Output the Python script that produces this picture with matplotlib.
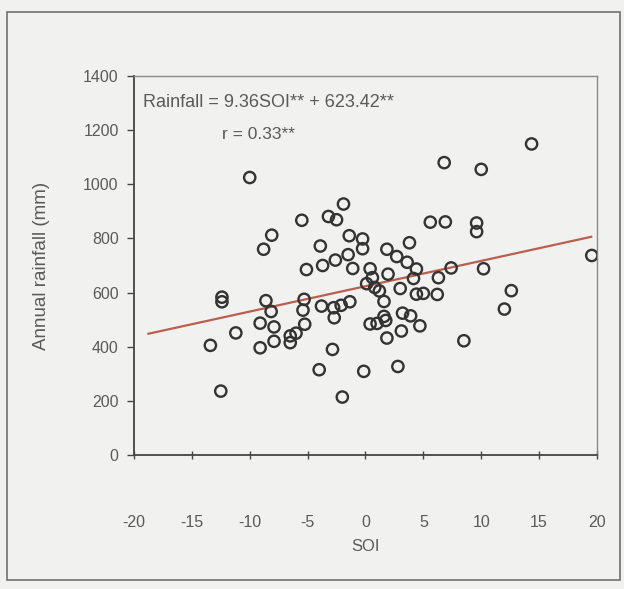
import matplotlib
matplotlib.use("Agg")
import matplotlib.pyplot as plt
from matplotlib.patches import Rectangle

plt.rcParams['font.family'] = ['Liberation Sans', 'DejaVu Sans']

# Southern Oscillation Index vs annual rainfall (mm)
soi = [-13.4, -12.5, -12.4, -12.4, -11.2, -10.0, -9.1, -9.1, -8.8, -8.6,
       -8.15, -8.1, -7.9, -7.9, -6.5, -6.5, -6.0, -5.5, -5.25, -5.4,
       -5.3, -5.1, -4.0, -3.8, -3.9, -3.7, -3.2, -2.5, -2.85, -2.6,
       -2.75, -2.7, -2.1, -2.0, -1.9, -1.4, -1.35, -1.5, -1.1, -0.25,
       -0.25, -0.15, 0.4, 0.6, 0.1, 0.8, 0.4, 1.0, 1.2, 1.6,
       1.6, 1.75, 1.85, 1.85, 1.95, 2.7, 2.8, 3.0, 3.1, 3.2,
       3.9, 3.8, 3.6, 4.4, 4.15, 4.4, 5.0, 4.7, 5.6, 6.2,
       6.3, 6.8, 6.9, 7.4, 8.5, 9.6, 9.6, 10.0, 10.2, 12.0,
       12.6, 14.35, 19.55]
rainfall = [405, 236, 583, 566, 451, 1025, 487, 396, 760, 570,
            530, 812, 473, 420, 440, 415, 450, 867, 483, 535,
            575, 685, 315, 550, 772, 700, 881, 869, 390, 720,
            544, 507, 553, 214, 927, 810, 566, 740, 689, 798,
            762, 309, 688, 655, 633, 619, 484, 486, 606, 567,
            512, 497, 432, 760, 668, 733, 327, 615, 458, 524,
            514, 784, 712, 687, 652, 594, 597, 477, 860, 593,
            655, 1080, 861, 691, 422, 857, 825, 1055, 688, 539,
            607, 1149, 737]

slope = 9.36
intercept = 623.42
line_x = [-18.75, 19.5]
xticks = [-20, -15, -10, -5, 0, 5, 10, 15, 20]
yticks = [0, 200, 400, 600, 800, 1000, 1200, 1400]

txt = '#5a5a5a'
bg = '#f1f1ef'

fig = plt.figure(figsize=(6.24, 5.89), dpi=100, facecolor=bg)
ax = fig.add_axes([0.2147, 0.2275, 0.742, 0.6435], facecolor=bg)

# outer frame
fig.add_artist(Rectangle((0.012, 0.015), 0.982, 0.965, transform=fig.transFigure,
                         fill=False, edgecolor='#707070', linewidth=1.2))

ax.scatter(soi, rainfall, s=66, facecolors='none', edgecolors='#333333',
           linewidths=1.7, zorder=3)
ax.plot(line_x, [slope * x + intercept for x in line_x], color='#b8604c',
        linewidth=1.6, zorder=2)

ax.set_xlim(-20, 20)
ax.set_ylim(0, 1400)
ax.set_xticks(xticks)
ax.set_yticks(yticks)
ax.set_xticklabels([str(t) for t in xticks])
ax.tick_params(axis='both', colors='#444444', labelcolor=txt, labelsize=11.5,
               direction='out', length=5, width=1)
ax.tick_params(axis='x', direction='inout', length=6, pad=40)
ax.tick_params(axis='y', pad=6)

for side in ['left', 'bottom']:
    ax.spines[side].set_color('#444444')
    ax.spines[side].set_linewidth(1.3)
for side in ['top', 'right']:
    ax.spines[side].set_color('#8a8a8a')
    ax.spines[side].set_linewidth(1.0)

ax.set_xlabel('SOI', color=txt, fontsize=12, labelpad=7)
ax.set_ylabel('Annual rainfall (mm)', color=txt, fontsize=13.5, labelpad=24)

ax.text(0.02, 0.93, 'Rainfall = 9.36SOI** + 623.42**', transform=ax.transAxes,
        color=txt, fontsize=13, va='center', ha='left')
ax.text(0.19, 0.845, 'r = 0.33**', transform=ax.transAxes,
        color=txt, fontsize=12.5, va='center', ha='left')

fig.savefig('out.png', dpi=100, facecolor=bg)
